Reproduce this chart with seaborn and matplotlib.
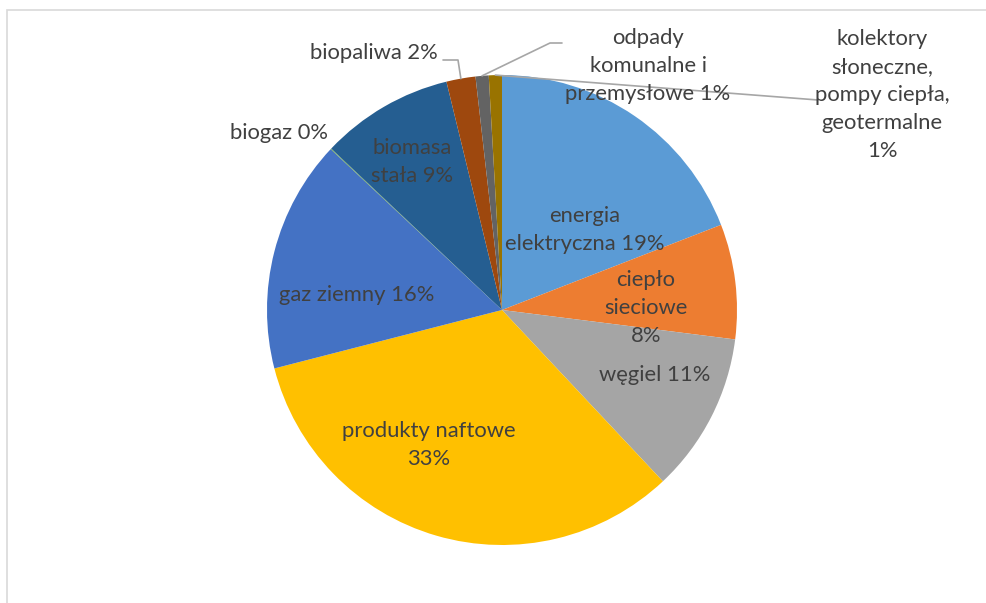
import numpy as np
import matplotlib
matplotlib.use("Agg")
import matplotlib.pyplot as plt
from matplotlib.patches import Rectangle
import seaborn as sns

labels = ["energia\nelektryczna 19%", "ciepło\nsieciowe\n8%", "węgiel 11%",
          "produkty naftowe\n33%", "gaz ziemny 16%", "biogaz 0%",
          "biomasa\nstała 9%", "biopaliwa 2%",
          "odpady\nkomunalne i\nprzemysłowe 1%",
          "kolektory\nsłoneczne,\npompy ciepła,\ngeotermalne\n1%"]
values = [19.1, 7.9, 11.0, 33.0, 16.0, 0.05, 9.15, 2.0, 0.9, 0.9]
colors = ["#5B9BD5", "#ED7D31", "#A5A5A5", "#FFC000", "#4472C4",
          "#70AD47", "#255E91", "#9E480E", "#636363", "#997300"]

# label centres in image pixels (x from left, y from top)
label_pos = [(585, 230), (646, 308), (655, 375), (429, 445), (357, 295),
             (279, 133), (412, 162), (374, 53), (648, 66), (882, 95)]
# leader line bends for outside labels (pixels)
leaders = {7: [(458, 60), (443, 60)],
           8: [(550, 43), (562, 43)],
           9: [(818, 100)]}

sns.set_theme(style="white")
plt.rcParams['font.family'] = ['Lato', 'DejaVu Sans']

W, H = 986, 603
fig = plt.figure(figsize=(W / 100, H / 100), dpi=100)
ax = fig.add_axes([0, 0, 1, 1])
cx, cy, r = 502, H - 310, 235
wedges, _ = ax.pie(values, colors=sns.color_palette(colors), startangle=90,
                   counterclock=False, center=(cx, cy), radius=r,
                   wedgeprops=dict(edgecolor="none"))
ax.set_xlim(0, W)
ax.set_ylim(0, H)
ax.set_aspect("equal")
ax.axis("off")

txt = "#404040"
for i, (lab, (x, y)) in enumerate(zip(labels, label_pos)):
    ax.text(x, H - y, lab, ha="center", va="center", multialignment="center",
            fontsize=15.8, color=txt, linespacing=1.5)
    if i in leaders:
        w = wedges[i]
        mid = np.deg2rad((w.theta1 + w.theta2) / 2)
        pts = [(cx + r * np.cos(mid), cy + r * np.sin(mid))]
        pts += [(px, H - py) for px, py in leaders[i]]
        xs, ys = zip(*pts)
        ax.plot(xs, ys, color="#A6A6A6", lw=1.2)

fig.add_artist(Rectangle((7 / W, -0.1), 1.2, (H - 10) / H + 0.1,
                         transform=fig.transFigure, fill=False,
                         edgecolor="#D9D9D9", lw=1.2))

fig.savefig("out.png", dpi=100)
